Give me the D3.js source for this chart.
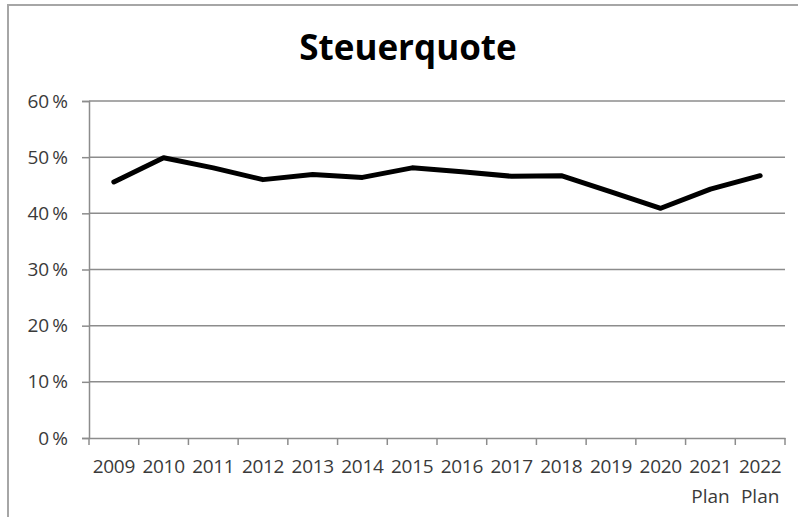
<!DOCTYPE html>
<html><head><meta charset="utf-8">
<script src="https://cdn.jsdelivr.net/npm/d3@7"></script>
<style>body{margin:0;background:#fff}svg{display:block}</style>
</head><body>
<svg id="c" width="798" height="517"></svg>
<script>
const years = ["2009","2010","2011","2012","2013","2014","2015","2016","2017","2018","2019","2020","2021","2022"];
const subLabels = ["","","","","","","","","","","","","Plan","Plan"];
const values = [45.6, 49.9, 48.1, 46.0, 46.9, 46.4, 48.1, 47.4, 46.6, 46.7, 43.8, 40.9, 44.3, 46.7];
const yTicks = [0,10,20,30,40,50,60];
const title = "Steuerquote";

(function(){
const svg = d3.select("#c");
const font = "'Open Sans', sans-serif";
// frame
svg.append("path").attr("d","M8,517V5H798").attr("fill","none").attr("stroke","#a6a6a6").attr("stroke-width",2);

const pL=89, pR=785, pT=101, pB=438;
const x = d3.scaleBand().domain(years).range([pL,pR]).padding(0);
const y = d3.scaleLinear().domain([0,60]).range([pB,pT]);

// gridlines
svg.append("g").selectAll("line").data(yTicks.filter(d=>d>0)).join("line")
  .attr("x1",pL).attr("x2",pR).attr("y1",d=>y(d)).attr("y2",d=>y(d))
  .attr("stroke","#8c8c8c").attr("stroke-width",1.5);

// y axis
const ya = svg.append("g").attr("transform",`translate(${pL},0)`)
  .call(d3.axisLeft(y).tickValues(yTicks).tickSize(7).tickPadding(14).tickFormat(d=>d+"\u2009%"));
ya.select(".domain").attr("stroke","#8c8c8c").attr("stroke-width",1.5);
ya.selectAll(".tick line").attr("stroke","#8c8c8c").attr("stroke-width",1.5);
ya.selectAll("text").attr("font-family",font).attr("font-size",19).attr("fill","#3a3a3a");

// x axis
const xa = svg.append("g").attr("transform",`translate(0,${pB})`)
  .call(d3.axisBottom(x).tickSize(0).tickPadding(22));
xa.select(".domain").attr("stroke","#8c8c8c").attr("stroke-width",1.5);
xa.selectAll("text").attr("font-family",font).attr("font-size",19).attr("fill","#3a3a3a").attr("letter-spacing","-0.3");
// category boundary ticks
const bounds = years.map(d=>x(d)).concat([pR]);
svg.append("g").selectAll("line").data(bounds).join("line")
  .attr("x1",d=>d).attr("x2",d=>d).attr("y1",pB).attr("y2",pB+7)
  .attr("stroke","#8c8c8c").attr("stroke-width",1.5);
// sub labels
svg.append("g").selectAll("text").data(years.map((d,i)=>({d,s:subLabels[i]})).filter(o=>o.s)).join("text")
  .attr("x",o=>x(o.d)+x.bandwidth()/2).attr("y",503).attr("text-anchor","middle")
  .attr("font-family",font).attr("font-size",19).attr("fill","#3a3a3a").text(o=>o.s);

// line
const line = d3.line().x((d,i)=>x(years[i])+x.bandwidth()/2).y(d=>y(d));
svg.append("path").datum(values).attr("d",line).attr("fill","none")
  .attr("stroke","#000").attr("stroke-width",5).attr("stroke-linejoin","round").attr("stroke-linecap","round");

// title
svg.append("text").attr("x",408).attr("y",60).attr("text-anchor","middle")
  .attr("font-family",font).attr("font-weight","bold").attr("font-size",35).attr("fill","#000").text(title);
})();
</script>
</body></html>
